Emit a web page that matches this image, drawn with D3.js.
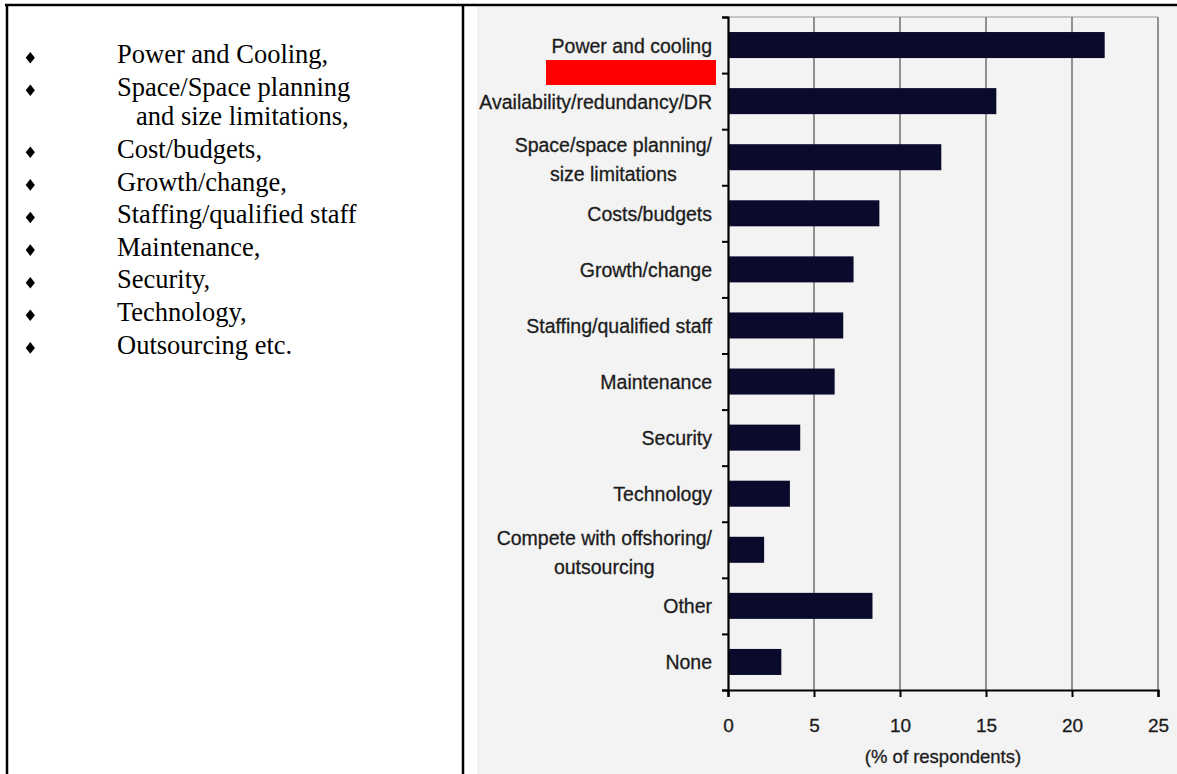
<!DOCTYPE html>
<html>
<head>
<meta charset="utf-8">
<script src="https://cdn.jsdelivr.net/npm/d3@7"></script>
<style>
  html, body { margin: 0; padding: 0; background: #ffffff; }
  svg { display: block; }
</style>
</head>
<body>
<svg id="chart" width="1177" height="774"></svg>
<script>
// ---- data ----
const categories = [
  "Power and cooling",
  "Availability/redundancy/DR",
  "Space/space planning/|size limitations",
  "Costs/budgets",
  "Growth/change",
  "Staffing/qualified staff",
  "Maintenance",
  "Security",
  "Technology",
  "Compete with offshoring/|outsourcing",
  "Other",
  "None"
];
const values = [21.9, 15.6, 12.4, 8.8, 7.3, 6.7, 6.2, 4.2, 3.6, 2.1, 8.4, 3.1];
const xTicks = [0, 5, 10, 15, 20, 25];
const xTitle = "(% of respondents)";
const bulletItems = [
  ["Power and Cooling,"],
  ["Space/Space planning", "and size limitations,"],
  ["Cost/budgets,"],
  ["Growth/change,"],
  ["Staffing/qualified staff"],
  ["Maintenance,"],
  ["Security,"],
  ["Technology,"],
  ["Outsourcing etc."]
];

// ---- layout ----
const svg = d3.select("#chart");
const W = 1177, H = 774;

// grey chart panel
svg.append("rect").attr("x", 477).attr("y", 7).attr("width", W - 477).attr("height", H - 7)
  .attr("fill", "#f3f3f3");

// table borders
const border = svg.append("g").attr("stroke", "#000").attr("stroke-width", 2.5);
border.append("line").attr("x1", 5).attr("x2", W).attr("y1", 5).attr("y2", 5);
border.append("line").attr("x1", 7).attr("x2", 7).attr("y1", 4).attr("y2", H);
border.append("line").attr("x1", 463).attr("x2", 463).attr("y1", 4).attr("y2", H);

// left bullet list
const list = svg.append("g").attr("font-family", "'Liberation Serif', 'Times New Roman', serif")
  .attr("font-size", 26.5).attr("fill", "#000");
let baseline = 63.3;
bulletItems.forEach((lines, i) => {
  if (i > 0) baseline += 32.6;
  const cx = 30.3, cy = baseline - 5.6;
  list.append("path")
    .attr("d", `M${cx},${cy - 5.8} L${cx + 4.6},${cy} L${cx},${cy + 5.8} L${cx - 4.6},${cy} Z`)
    .attr("fill", "#000");
  lines.forEach((t, j) => {
    if (j > 0) baseline += 29.4;
    list.append("text").attr("x", j === 0 ? 117 : 136).attr("y", baseline).text(t);
  });
});

// ---- chart ----
const plotTop = 17, plotBottom = 690, plotLeft = 728, plotRight = 1158;
const x = d3.scaleLinear().domain([0, 25]).range([plotLeft, plotRight]);
const y = d3.scaleBand().domain(categories).range([plotTop, plotBottom])
  .paddingInner(0.536).paddingOuter(0.268);

// top border of plot
svg.append("line").attr("x1", plotLeft).attr("x2", plotRight).attr("y1", plotTop).attr("y2", plotTop)
  .attr("stroke", "#9a9a9a").attr("stroke-width", 1.2);

// vertical gridlines
svg.append("g").selectAll("line").data(xTicks.filter(d => d > 0)).join("line")
  .attr("x1", d => x(d)).attr("x2", d => x(d))
  .attr("y1", plotTop).attr("y2", plotBottom)
  .attr("stroke", "#666").attr("stroke-width", 1.4);

// bars
svg.append("g").selectAll("rect").data(categories).join("rect")
  .attr("x", x(0))
  .attr("y", d => y(d))
  .attr("width", (d, i) => x(values[i]) - x(0))
  .attr("height", y.bandwidth())
  .attr("fill", "#0a0a2c");

// y axis (ticks at band boundaries)
const yb = d3.scaleLinear().domain([0, categories.length]).range([plotTop, plotBottom]);
const yAxis = svg.append("g").attr("transform", `translate(${plotLeft},0)`)
  .call(d3.axisLeft(yb).tickValues(d3.range(0, categories.length + 1)).tickSize(6).tickFormat(""));
yAxis.select(".domain").attr("stroke", "#000").attr("stroke-width", 2.2);
yAxis.selectAll(".tick line").attr("stroke", "#000").attr("stroke-width", 2);

// category labels
const labelX = 712;
const labels = svg.append("g")
  .attr("font-family", "'Liberation Sans', Arial, sans-serif")
  .attr("font-size", 19.5).attr("fill", "#1c1c1c")
  .attr("stroke", "#1c1c1c").attr("stroke-width", 0.3);
categories.forEach(c => {
  const cy = y(c) + y.bandwidth() / 2;
  const parts = c.split("|");
  if (parts.length === 1) {
    labels.append("text").attr("x", labelX).attr("y", cy + 7.5)
      .attr("text-anchor", "end").text(parts[0]);
  } else {
    const first = labels.append("text").attr("x", labelX).attr("y", cy - 5)
      .attr("text-anchor", "end").text(parts[0]);
    const w = first.node().getComputedTextLength();
    labels.append("text").attr("x", labelX - w / 2).attr("y", cy + 24)
      .attr("text-anchor", "middle").text(parts[1]);
  }
});

// x axis
const xAxis = svg.append("g").attr("transform", `translate(0,${plotBottom})`)
  .call(d3.axisBottom(x).tickValues(xTicks).tickSize(7).tickPadding(22));
xAxis.select(".domain").attr("stroke", "#000").attr("stroke-width", 2.2);
xAxis.selectAll(".tick line").attr("stroke", "#000").attr("stroke-width", 2);
xAxis.selectAll(".tick text")
  .attr("font-family", "'Liberation Sans', Arial, sans-serif")
  .attr("font-size", 19).attr("fill", "#1c1c1c")
  .attr("stroke", "#1c1c1c").attr("stroke-width", 0.3);

svg.append("text").attr("x", (plotLeft + plotRight) / 2).attr("y", 763)
  .attr("text-anchor", "middle")
  .attr("font-family", "'Liberation Sans', Arial, sans-serif")
  .attr("font-size", 18.5).attr("fill", "#1c1c1c")
  .attr("stroke", "#1c1c1c").attr("stroke-width", 0.3)
  .text(xTitle);

// red highlight annotation
svg.append("rect").attr("x", 546).attr("y", 60).attr("width", 170).attr("height", 25).attr("fill", "#ff0000");
</script>
</body>
</html>
